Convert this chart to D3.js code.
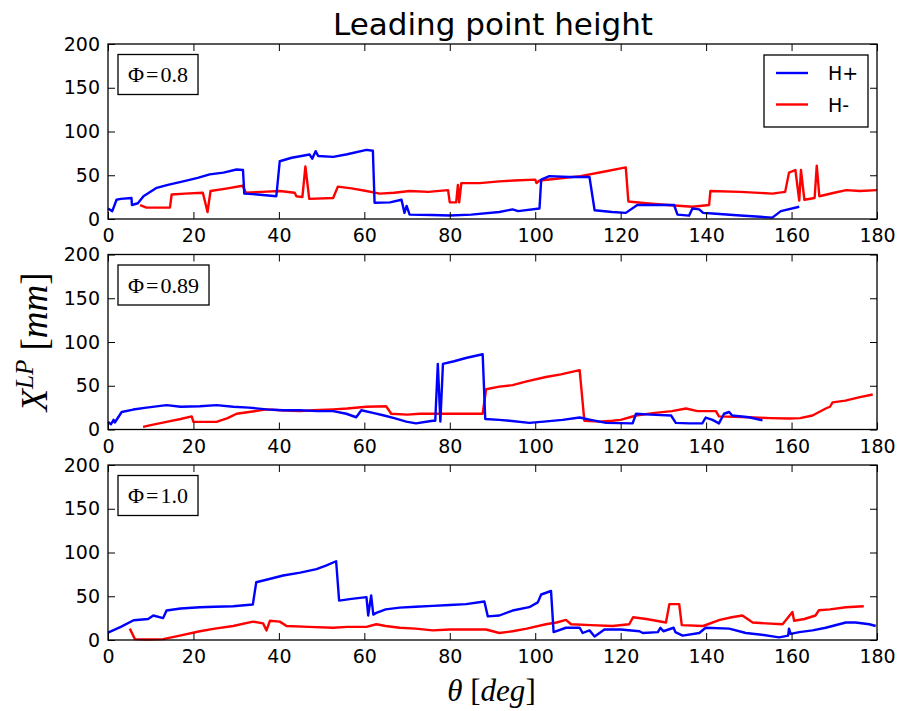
<!DOCTYPE html>
<html><head><meta charset="utf-8">
<script src="https://cdn.jsdelivr.net/npm/d3@7/dist/d3.min.js"></script>
<style>body{margin:0;background:#fff;} svg{display:block;}</style>
</head><body>
<svg id="chart" width="897" height="711"></svg>
<script>
// ---- data (theta [deg], X_LP [mm]) ----
const phiLabels = ["0.8", "0.89", "1.0"];
const xTicks = [0, 20, 40, 60, 80, 100, 120, 140, 160, 180];
const yTicks = [0, 50, 100, 150, 200];
const seriesNames = ["H+", "H-"];

const hPlus08 = [[0,12],[1,9],[2,22],[3,23],[5.5,24],[5.6,16],[7,18],[8.3,26],[11.4,35.6],[14,39],[17.6,43],[21,47],[23.8,51],[27,53],[30.1,56.6],[31.6,56],[31.9,29],[35,28],[39.4,26],[40.2,66],[43,70],[47.2,73.7],[47.8,69],[48.6,77.5],[49.2,72],[52.7,71],[56,74],[60.5,79],[62,78],[62.4,18.5],[66,19],[68.7,22],[69.4,7],[69.9,15],[70.6,5],[75.8,4.5],[80,4],[85,5],[91.6,8],[94.7,11],[96,9],[101,12],[101.4,45],[103.3,49],[108,48],[112.7,48],[113.9,10],[118,8],[121.2,7],[123.9,16],[128,16],[132.5,16],[133.3,5],[136,3.8],[136.8,12],[138.4,11],[139.3,7],[141.5,6.3],[148,4],[155.5,1.6],[157.5,9],[161.8,14]];
const hMinus08 = [[7.5,15.8],[9,13],[14.5,13],[14.9,28],[18,29],[22.2,30],[23.3,8],[24,32],[28,35],[31.5,38],[32.3,30],[36,31],[40.2,32],[43.7,30],[44.1,26],[45.5,25],[46.2,60],[47.1,23],[52.7,24],[53.8,37],[57,35],[60.5,32],[63.6,29],[67,30],[70.6,32],[75,31],[79.6,33],[80,19],[81.5,19],[81.9,39],[82.2,19],[82.7,41],[87,41],[91.6,43],[95,44],[100,45],[100.3,41],[101,44],[105,46],[110.6,49],[116,54],[121.2,59],[121.8,20],[125.9,18],[131,16],[136.8,14],[140.7,16],[141,32],[148,31],[155.5,29],[158.5,31],[159.4,53],[160.9,56],[161.8,21],[162.2,56],[163,22],[165.4,24],[165.9,61],[166.5,26],[170,30],[172.8,33],[176,32],[180,33]];

const hPlus089 = [[0,8.7],[0.7,6],[1.3,11],[1.6,8],[3.2,20],[5.9,22.8],[9,25],[13.7,27.8],[17,26],[21.5,26.6],[25.4,27.8],[29.3,26],[33,25],[37.1,23],[41,22],[44.9,22],[49,21],[52.7,21],[55.8,18],[58.1,14],[59.3,22],[62,19],[64.4,16.3],[67,13],[69.8,9],[72.1,7],[76,10],[76.6,10],[77.2,75],[77.8,9],[78.4,75],[81,78],[84,82],[87.7,86],[88.3,12],[91.6,11],[94,10],[98.6,7.6],[102,9],[106.4,11],[110.4,13.7],[113,11],[116.6,7.6],[122.8,7],[123.6,18],[127,17],[131.8,16],[132.9,7.6],[136,7],[139.1,7],[139.9,13.7],[141.5,11],[143,7],[144.2,18],[145.4,20],[146.1,16],[150,14],[153.2,10.5]];
const hMinus089 = [[8.2,3],[10,5],[13.7,8.7],[17,12],[19.6,15],[20,8.7],[25.4,8.7],[28,13],[30.1,18],[33,20],[37.1,23],[40.2,22],[44.9,21],[48,22],[52.7,23],[56,24],[60.5,26],[65.1,26.6],[66.3,18],[70,17],[73,18],[76,18],[82,18],[87.7,18],[88.5,46],[91.6,49],[94.7,50.7],[98,55],[102.5,60],[106,63],[110.4,67.8],[111.5,10],[115,9],[118.1,10],[120,11],[123.6,16],[128,19],[132,21],[135.3,24],[138,21],[142.3,21],[143,15],[150,14],[155,13],[159.4,12.5],[162,13],[164.9,16],[168,24],[169,26],[169.6,31],[172.6,33],[176,37],[179,40]];

const hPlus10 = [[0,8.4],[3,15],[6,22.6],[9.4,24],[10.6,28],[12.9,25],[13.7,33.7],[17,36],[21.5,37.5],[25,38],[29.3,38.6],[33.9,40.5],[34.7,66],[38,70],[41,73.7],[45,77],[48.8,81],[51,85],[53.4,90],[54.1,45],[57,47],[60.5,49],[60.9,28],[61.6,51],[62.1,29],[62.8,31],[65,35],[68.3,37],[72,38],[76,39],[80,40],[83.8,41],[88.1,44],[88.9,27],[91.6,28],[94.7,33.7],[98.6,37.5],[100.6,43],[101.4,52],[103.7,56],[104.3,9],[107.2,14],[110.4,14],[111.1,8],[112.7,11],[113.9,4],[116.2,12],[120,12],[124.4,10],[125.2,8],[128.7,9],[129.3,14],[130,10],[132.4,14],[132.8,9],[134.5,5],[138.4,8],[139.9,14],[145.4,13],[149.3,8],[153,6],[157.1,3],[159.2,5],[159.4,13],[159.8,7],[161.8,9],[164.9,11],[168,14],[172.7,20],[175,20],[178.2,18],[179.7,16]];
const hMinus10 = [[5.1,13],[6.3,1],[9,0.5],[12.9,1],[16.8,5],[21.5,10],[25,13],[29.3,16],[33.9,21],[36.3,19],[37.1,11],[37.9,22],[40.2,21],[41.8,16],[47,15],[52.7,14],[56,15],[60.5,15],[62.8,18],[65,16],[68.3,14],[72,13],[76,11],[80,12],[83.8,12],[88.5,12],[91.6,8],[94.7,10],[98,13],[102.5,18],[105,20],[107.2,23],[108.4,18],[113,17],[118.1,16],[122,18],[122.9,26],[126,24],[130.6,20],[131.4,41],[133.7,41],[134.3,17],[139.3,16],[143.2,23],[146,26],[148.5,28],[150.9,20],[154,19],[157.9,18],[160.2,32],[160.6,22],[163,24],[165.6,28],[166.4,34],[169,35],[172.7,37.5],[176.9,38.6]];

const panels = [
  {phi: phiLabels[0], plus: hPlus08, minus: hMinus08},
  {phi: phiLabels[1], plus: hPlus089, minus: hMinus089},
  {phi: phiLabels[2], plus: hPlus10, minus: hMinus10}
];

// ---- layout ----
const svg = d3.select("#chart");
const left = 108, width = 769, height = 175;
const tops = [44, 254.5, 465];
const colors = {plus: "#0000ff", minus: "#ff0000"};
const tickFont = "'DejaVu Sans', sans-serif";
const serif = "'Liberation Serif', 'DejaVu Serif', serif";
const tickLen = 7;

const x = d3.scaleLinear().domain([0, 180]).range([left, left + width]);

panels.forEach((p, i) => {
  const top = tops[i];
  const y = d3.scaleLinear().domain([0, 200]).range([top + height, top]);
  const g = svg.append("g");

  const line = d3.line().x(d => x(d[0])).y(d => y(d[1]));
  [["minus", p.minus], ["plus", p.plus]].forEach(([k, data]) => {
    g.append("path").datum(data)
      .attr("d", line)
      .attr("fill", "none")
      .attr("stroke", colors[k])
      .attr("stroke-width", 2.4)
      .attr("stroke-linejoin", "round");
  });

  // axes: ticks inward on all sides
  const ax = (axis, tr) => {
    const a = g.append("g").attr("transform", tr).call(axis);
    a.select(".domain").remove();
    a.selectAll(".tick line").attr("stroke", "#000").attr("stroke-width", 1);
    a.selectAll("text").attr("font-family", tickFont).attr("font-size", 19).attr("fill", "#000");
    return a;
  };
  ax(d3.axisBottom(x).tickValues(xTicks).tickSizeInner(-tickLen).tickSizeOuter(0).tickPadding(10).tickFormat(d3.format("d")),
     `translate(0,${top + height})`);
  ax(d3.axisTop(x).tickValues(xTicks).tickSizeInner(-tickLen).tickSizeOuter(0).tickFormat(""),
     `translate(0,${top})`);
  ax(d3.axisLeft(y).tickValues(yTicks).tickSizeInner(-tickLen).tickSizeOuter(0).tickPadding(8).tickFormat(d3.format("d")),
     `translate(${left},0)`);
  ax(d3.axisRight(y).tickValues(yTicks).tickSizeInner(-tickLen).tickSizeOuter(0).tickFormat(""),
     `translate(${left + width},0)`);

  g.append("rect").attr("x", left).attr("y", top).attr("width", width).attr("height", height)
    .attr("fill", "none").attr("stroke", "#000").attr("stroke-width", 1.3);

  // phi annotation box
  const ag = g.append("g");
  const r = ag.append("rect");
  const t = ag.append("text")
    .attr("x", 0).attr("y", 0)
    .attr("font-family", serif).attr("font-size", 22).attr("fill", "#000");
  t.append("tspan").text("Φ");
  t.append("tspan").attr("dx", 2).text("=");
  t.append("tspan").attr("dx", 2).text(p.phi);
  const bb = t.node().getBBox();
  const bx = 118, by = top + 10.5, padX = 10, bh = 40;
  const bw = bb.width + 2 * padX;
  r.attr("x", bx).attr("y", by).attr("width", bw).attr("height", bh)
    .attr("fill", "#fff").attr("stroke", "#000").attr("stroke-width", 1.3);
  t.attr("x", bx + padX).attr("y", by + bh / 2 + 7.5);

  if (i === 0) {
    const lg = g.append("g");
    lg.append("rect").attr("x", 764).attr("y", 55).attr("width", 104).attr("height", 72)
      .attr("fill", "#fff").attr("stroke", "#000").attr("stroke-width", 1.3);
    [["plus", seriesNames[0], 73], ["minus", seriesNames[1], 104.5]].forEach(([k, name, yy]) => {
      lg.append("line").attr("x1", 776).attr("x2", 808).attr("y1", yy).attr("y2", yy)
        .attr("stroke", colors[k]).attr("stroke-width", 2.4);
      lg.append("text").attr("x", 828).attr("y", yy + 7)
        .attr("font-family", tickFont).attr("font-size", 19).text(name);
    });
  }
});

// title
svg.append("text").attr("x", left + width / 2 + 0.5).attr("y", 35)
  .attr("text-anchor", "middle").attr("font-family", tickFont).attr("font-size", 31)
  .text("Leading point height");

// x label
const xl = svg.append("text").attr("x", left + width / 2 - 1).attr("y", 701)
  .attr("text-anchor", "middle").attr("font-family", serif).attr("font-size", 31);
xl.append("tspan").attr("font-style", "italic").text("θ");
xl.append("tspan").text(" [");
xl.append("tspan").attr("font-style", "italic").text("deg");
xl.append("tspan").text("]");

// y label
const yl = svg.append("text").attr("transform", "translate(47,342) rotate(-90)")
  .attr("text-anchor", "middle").attr("font-family", serif).attr("font-size", 37);
yl.append("tspan").attr("font-style", "italic").text("X");
yl.append("tspan").attr("font-style", "italic").attr("font-size", 25).attr("dy", -14).text("LP");
yl.append("tspan").attr("dy", 14).text(" [");
yl.append("tspan").attr("font-style", "italic").text("mm");
yl.append("tspan").text("]");
</script>
</body></html>
